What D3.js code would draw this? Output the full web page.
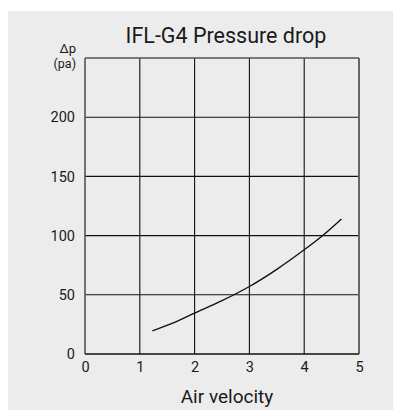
<!DOCTYPE html>
<html>
<head>
<meta charset="utf-8">
<script src="https://cdn.jsdelivr.net/npm/d3@7"></script>
<style>
  html, body { margin: 0; padding: 0; background: #ffffff; }
  svg { display: block; }
  text { font-family: Roboto, "Noto Sans", sans-serif; fill: #1a1a1a; }
</style>
</head>
<body>
<svg id="chart" width="393" height="410"></svg>
<script>
// Pressure drop curve for the IFL-G4 filter
const velocity = [1.23, 1.6, 2.0, 2.5, 3.0, 3.5, 4.0, 4.35, 4.68];
const pressure = [19.5, 26, 34.5, 45, 57, 71.5, 88, 100.5, 114];
const xTicks = [0, 1, 2, 3, 4, 5];
const yTicks = [0, 50, 100, 150, 200];
const title = "IFL-G4 Pressure drop";
const xLabel = "Air velocity";
const yLabel = ["\u0394p", "(pa)"];

const svg = d3.select("#chart");
const W = 393, H = 410;
const m = { left: 85, right: 359, top: 58, bottom: 354 };

svg.append("rect")
  .attr("x", 8).attr("y", 11)
  .attr("width", W - 8).attr("height", H - 11)
  .attr("fill", "#ebeceb");

const x = d3.scaleLinear().domain([0, 5]).range([m.left, m.right]);
const y = d3.scaleLinear().domain([0, 250]).range([m.bottom, m.top]);

// grid
const grid = svg.append("g");
grid.selectAll(".vg").data(xTicks.slice(1, -1)).join("line")
  .attr("x1", d => x(d)).attr("x2", d => x(d))
  .attr("y1", y(250)).attr("y2", y(0))
  .attr("stroke", "#111").attr("stroke-width", 1.1);
grid.selectAll(".hg").data(yTicks.slice(1)).join("line")
  .attr("x1", x(0)).attr("x2", x(5))
  .attr("y1", d => y(d)).attr("y2", d => y(d))
  .attr("stroke", "#111").attr("stroke-width", 1.1);

// frame
svg.append("line").attr("x1", x(0)).attr("x2", x(5)).attr("y1", y(250)).attr("y2", y(250))
  .attr("stroke", "#555").attr("stroke-width", 1.6);
svg.append("line").attr("x1", x(5)).attr("x2", x(5)).attr("y1", y(250)).attr("y2", y(0))
  .attr("stroke", "#666").attr("stroke-width", 2);
svg.append("line").attr("x1", x(0)).attr("x2", x(0)).attr("y1", y(250)).attr("y2", y(0))
  .attr("stroke", "#555").attr("stroke-width", 1.6);
svg.append("line").attr("x1", x(0)).attr("x2", x(5)).attr("y1", y(0)).attr("y2", y(0))
  .attr("stroke", "#111").attr("stroke-width", 1.3);

// axes labels
const xAxis = d3.axisBottom(x).tickValues(xTicks).tickFormat(d3.format("d")).tickSize(0).tickPadding(8);
const gx = svg.append("g").attr("transform", `translate(0,${y(0)})`).call(xAxis);
gx.select(".domain").remove();
gx.selectAll("text").style("font-size", "14.5px").attr("fill", "#1a1a1a")
  .style("font-family", "Roboto, 'Noto Sans', sans-serif");

const yAxis = d3.axisLeft(y).tickValues(yTicks).tickFormat(d3.format("d")).tickSize(0).tickPadding(10);
const gy = svg.append("g").attr("transform", `translate(${x(0)},0)`).call(yAxis);
gy.select(".domain").remove();
gy.selectAll("text").style("font-size", "14.5px").attr("fill", "#1a1a1a")
  .style("font-family", "Roboto, 'Noto Sans', sans-serif");

// curve
const line = d3.line()
  .x((d, i) => x(velocity[i]))
  .y((d, i) => y(pressure[i]))
  .curve(d3.curveCatmullRom.alpha(0.5));
svg.append("path").datum(velocity).attr("d", line)
  .attr("fill", "none").attr("stroke", "#111").attr("stroke-width", 1.4);

// titles
svg.append("text").attr("x", 226).attr("y", 42.5).attr("text-anchor", "middle")
  .style("font-size", "21.5px").text(title);
svg.append("text").attr("x", 227).attr("y", 403).attr("text-anchor", "middle")
  .style("font-size", "19px").text(xLabel);
svg.append("text").attr("x", 76).attr("y", 53).attr("text-anchor", "end")
  .style("font-size", "13px").text(yLabel[0]);
svg.append("text").attr("x", 76).attr("y", 68).attr("text-anchor", "end")
  .style("font-size", "12.5px").text(yLabel[1]);
</script>
</body>
</html>
